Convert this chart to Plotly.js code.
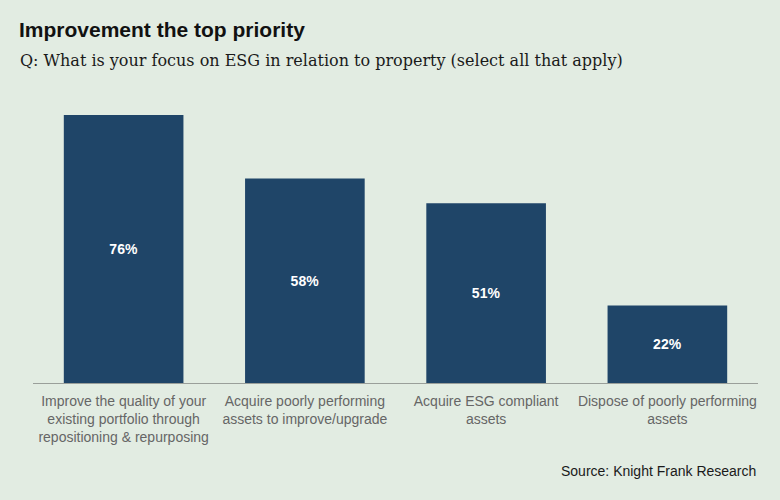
<!DOCTYPE html>
<html><head><meta charset="utf-8">
<script src="https://cdn.plot.ly/plotly-3.0.1.min.js"></script>
<style>html,body{margin:0;padding:0;background:#e2ece2;}#chart{width:780px;height:500px;}</style>
</head><body><div id="chart"></div>
<script>
const categories = [
  "Improve the quality of your<br>existing portfolio through<br>repositioning & repurposing",
  "Acquire poorly performing<br>assets to improve/upgrade",
  "Acquire ESG compliant<br>assets",
  "Dispose of poorly performing<br>assets"
];
const values = [76, 58, 51, 22];
const valueLabels = values.map(v => v + "%");

const trace = {
  type: "bar",
  x: categories,
  y: values,
  text: valueLabels,
  textposition: "inside",
  insidetextanchor: "middle",
  textfont: {family: "Liberation Sans, Arial, sans-serif", size: 14, color: "#ffffff", weight: "bold"},
  marker: {color: "#1f4568"},
  hoverinfo: "skip"
};

const layout = {
  width: 780, height: 500,
  paper_bgcolor: "#e2ece2", plot_bgcolor: "#e2ece2",
  margin: {l: 33, r: 22, t: 101, b: 117},
  bargap: 0.34,
  showlegend: false,
  xaxis: {
    showline: true, linecolor: "#9a9f9a", linewidth: 1,
    ticks: "", ticklabelstandoff: 5,
    tickfont: {family: "Liberation Sans, Arial, sans-serif", size: 14, color: "#666666"},
    fixedrange: true
  },
  yaxis: {range: [0, 80], visible: false, showgrid: false, zeroline: false, fixedrange: true},
  annotations: [
    {text: "<b>Improvement the top priority</b>", xref: "paper", yref: "paper", x: 0, y: 1, xanchor: "left", yanchor: "middle",
     yshift: 72, xshift: -16, showarrow: false, font: {family: "Liberation Sans, Arial, sans-serif", size: 21, color: "#111111"}},
    {text: "Q: What is your focus on ESG in relation to property (select all that apply)", xref: "paper", yref: "paper", x: 0, y: 1, xanchor: "left", yanchor: "middle",
     yshift: 41, xshift: -15, showarrow: false, font: {family: "DejaVu Serif, serif", size: 16, color: "#1a1a1a"}},
    {text: "Source: Knight Frank Research", xref: "paper", yref: "paper", x: 1, y: 0, xanchor: "right", yanchor: "middle",
     yshift: -88, xshift: 0, showarrow: false, font: {family: "Liberation Sans, Arial, sans-serif", size: 14, color: "#1a1a1a"}}
  ]
};

Plotly.newPlot("chart", [trace], layout, {displayModeBar: false, staticPlot: true});
</script></body></html>
